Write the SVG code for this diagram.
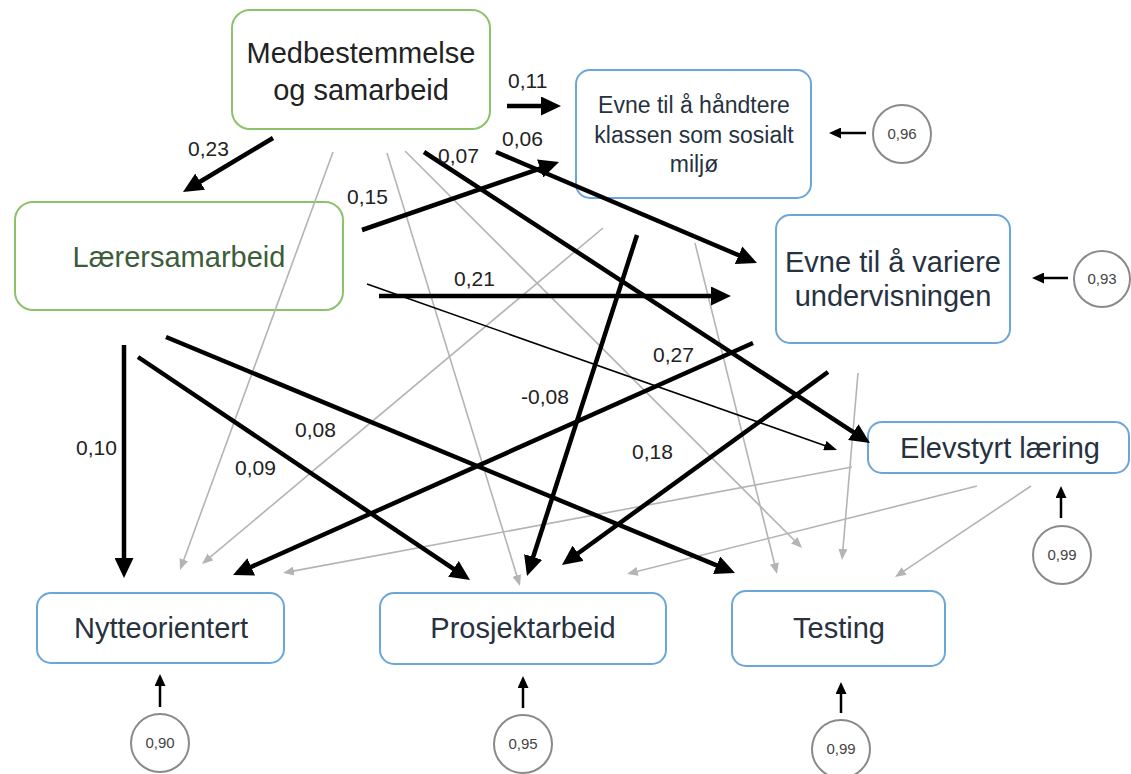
<svg xmlns="http://www.w3.org/2000/svg" width="1131" height="774" viewBox="0 0 1131 774">
  <style>
    .box-g { fill: #ffffff; stroke: #8cc26c; stroke-width: 2; }
    .box-b { fill: #ffffff; stroke: #6ba6da; stroke-width: 2; }
    .node-t { font-family: "Liberation Sans", Arial, sans-serif; font-size: 29px; fill: #27323f; text-anchor: middle; }
    .node-s { font-size: 23px; }
    .node-dark { fill: #222222; }
    .node-green { fill: #3c5d3a; }
    .res { fill: #ffffff; stroke: #8a8a8a; stroke-width: 2; }
    .res-t { font-family: "Liberation Sans", Arial, sans-serif; font-size: 15px; fill: #444444; text-anchor: middle; }
    .lbl { font-family: "Liberation Sans", Arial, sans-serif; font-size: 21px; fill: #222222; }
    .thick { stroke: #000000; stroke-width: 4.5; fill: none; marker-end: url(#head-big); }
    .thin { stroke: #000000; stroke-width: 1.6; fill: none; marker-end: url(#head-thin); }
    .grey { stroke: #b4b4b4; stroke-width: 1.6; fill: none; marker-end: url(#head-grey); }
    .resid { stroke: #000000; stroke-width: 2.5; fill: none; marker-end: url(#head-small); }
  </style>
  <defs>
    <marker id="head-big" markerUnits="userSpaceOnUse" markerWidth="20" markerHeight="19" refX="6" refY="9.5" orient="auto">
      <path d="M0,0 L20,9.5 L0,19 z" fill="#000000"/>
    </marker>
    <marker id="head-thin" markerUnits="userSpaceOnUse" markerWidth="13" markerHeight="10" refX="5" refY="5" orient="auto">
      <path d="M0,0 L13,5 L0,10 z" fill="#000000"/>
    </marker>
    <marker id="head-grey" markerUnits="userSpaceOnUse" markerWidth="11" markerHeight="9" refX="5" refY="4.5" orient="auto">
      <path d="M0,0 L11,4.5 L0,9 z" fill="#b4b4b4"/>
    </marker>
    <marker id="head-small" markerUnits="userSpaceOnUse" markerWidth="12" markerHeight="11" refX="4" refY="5.5" orient="auto">
      <path d="M0,0 L12,5.5 L0,11 z" fill="#000000"/>
    </marker>
  </defs>

  <rect width="1131" height="774" fill="#ffffff"/>

  <!-- nodes -->
  <g id="medbestemmelse">
    <rect class="box-g" x="232" y="10" width="258" height="119" rx="18"/>
    <text class="node-t node-dark" x="361" y="63">Medbestemmelse</text>
    <text class="node-t node-dark" x="361" y="100">og samarbeid</text>
  </g>
  <g id="laerersamarbeid">
    <rect class="box-g" x="15" y="202" width="328" height="108" rx="18"/>
    <text class="node-t node-green" x="179" y="267">Lærersamarbeid</text>
  </g>
  <g id="evne-handtere">
    <rect class="box-b" x="576" y="70" width="235" height="128" rx="14"/>
    <text class="node-t node-s" x="694" y="113">Evne til å håndtere</text>
    <text class="node-t node-s" x="694" y="143">klassen som sosialt</text>
    <text class="node-t node-s" x="694" y="172">miljø</text>
  </g>
  <g id="evne-variere">
    <rect class="box-b" x="776" y="215" width="234" height="128" rx="14"/>
    <text class="node-t" x="893" y="272">Evne til å variere</text>
    <text class="node-t" x="893" y="306">undervisningen</text>
  </g>
  <g id="elevstyrt">
    <rect class="box-b" x="868" y="422" width="261" height="51" rx="14"/>
    <text class="node-t" x="1000" y="458">Elevstyrt læring</text>
  </g>
  <g id="nytteorientert">
    <rect class="box-b" x="37" y="593" width="247" height="70" rx="14"/>
    <text class="node-t" x="161" y="638">Nytteorientert</text>
  </g>
  <g id="prosjektarbeid">
    <rect class="box-b" x="380" y="593" width="286" height="71" rx="14"/>
    <text class="node-t" x="523" y="638">Prosjektarbeid</text>
  </g>
  <g id="testing">
    <rect class="box-b" x="732" y="591" width="213" height="75" rx="14"/>
    <text class="node-t" x="839" y="638">Testing</text>
  </g>

  <!-- residual terms -->
  <g id="res-handtere">
    <circle class="res" cx="902" cy="134" r="29"/>
    <text class="res-t" x="902" y="139">0,96</text>
  </g>
  <g id="res-variere">
    <circle class="res" cx="1102" cy="279" r="28"/>
    <text class="res-t" x="1102" y="284">0,93</text>
  </g>
  <g id="res-elevstyrt">
    <circle class="res" cx="1062" cy="555" r="29"/>
    <text class="res-t" x="1062" y="560">0,99</text>
  </g>
  <g id="res-nytte">
    <circle class="res" cx="160" cy="743" r="29"/>
    <text class="res-t" x="160" y="748">0,90</text>
  </g>
  <g id="res-prosjekt">
    <circle class="res" cx="523" cy="744" r="29"/>
    <text class="res-t" x="523" y="749">0,95</text>
  </g>
  <g id="res-testing">
    <circle class="res" cx="841" cy="749" r="29"/>
    <text class="res-t" x="841" y="754">0,99</text>
  </g>

  <!-- connectors -->
  <g id="connectors">
    <!-- weak paths -->
    <line class="grey" x1="333" y1="152" x2="182.1" y2="564.4"/>
    <line class="grey" x1="387" y1="153" x2="518.2" y2="580.3"/>
    <line class="grey" x1="405" y1="151" x2="797.8" y2="543.8"/>
    <line class="grey" x1="603" y1="228" x2="206.6" y2="560.1"/>
    <line class="grey" x1="695" y1="243" x2="775.6" y2="568.2"/>
    <line class="grey" x1="858" y1="373" x2="842.5" y2="554"/>
    <line class="grey" x1="852" y1="467" x2="288.9" y2="571.9"/>
    <line class="grey" x1="977" y1="486" x2="632.8" y2="572.5"/>
    <line class="grey" x1="1031" y1="486" x2="900" y2="573.7"/>

    <line class="thin" x1="367" y1="284" x2="829.5" y2="447.3"/>

    <!-- significant paths -->
    <line class="thick" x1="507" y1="106" x2="547" y2="106"/>
    <line class="thick" x1="273" y1="138" x2="195" y2="184.8"/>
    <line class="thick" x1="362" y1="230" x2="545.8" y2="166.6"/>
    <line class="thick" x1="424" y1="152" x2="858.3" y2="435.4"/>
    <line class="thick" x1="496" y1="152" x2="744.1" y2="257.5"/>
    <line class="thick" x1="379" y1="296" x2="717" y2="296"/>
    <line class="thick" x1="124" y1="345" x2="124" y2="564"/>
    <line class="thick" x1="138" y1="357" x2="458.4" y2="572.2"/>
    <line class="thick" x1="166" y1="337" x2="722.1" y2="567.6"/>
    <line class="thick" x1="753" y1="343" x2="245.8" y2="569.3"/>
    <line class="thick" x1="637" y1="235" x2="531.3" y2="562.7"/>
    <line class="thick" x1="828" y1="372" x2="573.3" y2="556.8"/>

    <!-- residual arrows -->
    <line class="resid" x1="866" y1="133" x2="837" y2="133"/>
    <line class="resid" x1="1068" y1="278" x2="1040" y2="278"/>
    <line class="resid" x1="1061" y1="518" x2="1061" y2="494"/>
    <line class="resid" x1="160" y1="707" x2="160" y2="682"/>
    <line class="resid" x1="523" y1="708" x2="523" y2="684"/>
    <line class="resid" x1="841" y1="713" x2="841" y2="690"/>

    <!-- path coefficients -->
    <text class="lbl" x="508" y="88">0,11</text>
    <text class="lbl" x="188" y="156">0,23</text>
    <text class="lbl" x="502" y="146">0,06</text>
    <text class="lbl" x="438" y="163">0,07</text>
    <text class="lbl" x="347" y="204">0,15</text>
    <text class="lbl" x="454" y="286">0,21</text>
    <text class="lbl" x="653" y="362">0,27</text>
    <text class="lbl" x="521" y="404">-0,08</text>
    <text class="lbl" x="632" y="459">0,18</text>
    <text class="lbl" x="76" y="455">0,10</text>
    <text class="lbl" x="235" y="475">0,09</text>
    <text class="lbl" x="295" y="437">0,08</text>
  </g>
</svg>
